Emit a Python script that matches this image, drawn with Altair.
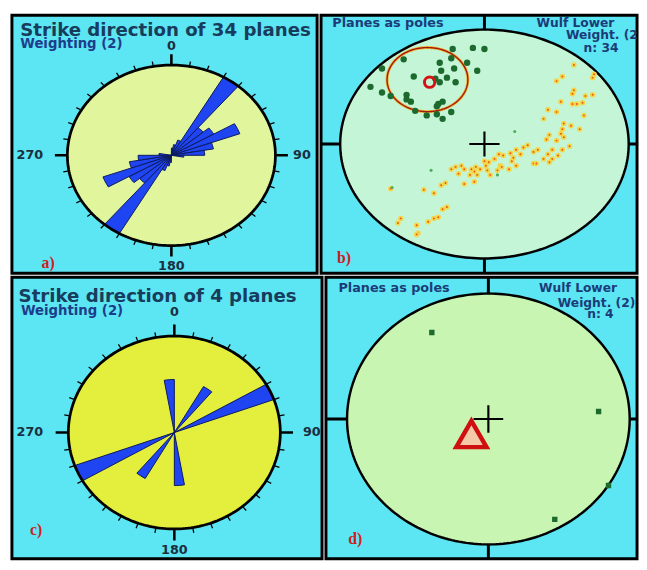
import altair as alt
import numpy as np
import pandas as pd

# ================= DATA =================
# (a) rose diagram of 34 planes: 10-degree strike bins (start angle) and relative petal length
ROSE_A_BIN = [0, 10, 20, 30, 40, 50, 60, 70, 80, 90]
ROSE_A_LEN = [0.08, 0.12, 0.18, 1.00, 0.40, 0.47, 0.70, 0.41, 0.32, 0.12]
# (c) rose diagram of 4 planes
ROSE_C_BIN = [170, 30, 60]
ROSE_C_LEN = [0.55, 0.55, 1.00]
BIN_WIDTH = 10
ROSE_LABELS = ["0", "90", "180", "270"]

# (b) poles of 34 planes, Wulff lower hemisphere (unit-circle coordinates)
POLE_B_X = [-0.22, -0.08, 0.00, -0.56, -0.23, -0.12, -0.31, -0.71, -0.05, -0.30,
            -0.21, -0.49, -0.26, -0.34, -0.20, -0.79, -0.71, -0.65, -0.54, -0.51,
            -0.48, -0.32, -0.29, -0.33, -0.40, -0.33, -0.29, -0.23, -0.54, -0.31]
POLE_B_Y = [0.83, 0.84, 0.83, 0.74, 0.75, 0.71, 0.71, 0.66, 0.64, 0.64,
            0.66, 0.59, 0.58, 0.57, 0.54, 0.50, 0.45, 0.42, 0.43, 0.37,
            0.29, 0.35, 0.37, 0.33, 0.25, 0.26, 0.22, 0.28, 0.39, 0.54]
# (b) intersection points
INT_B_X = [0.62, 0.54, 0.76, 0.75, 0.50, 0.62, 0.61, 0.70, 0.75, 0.53, 0.61, 0.64, 0.68,
           0.44, 0.50, 0.69, 0.41, 0.55, 0.60, 0.54, 0.66, 0.53, 0.55, 0.45, 0.43, 0.50,
           0.59, 0.54, 0.47, 0.44, 0.51, 0.41, 0.47, 0.45, 0.37, 0.34, 0.30, 0.27, 0.22,
           0.25, 0.18, 0.20, 0.13, 0.10, 0.07, 0.11, 0.03, 0.00, 0.01, -0.03, -0.06, -0.07,
           -0.09, -0.14, -0.16, -0.20, -0.23, -0.18, -0.10, -0.05, 0.02, 0.04, 0.09, 0.12,
           0.17, 0.19, 0.34, 0.36, 0.22, -0.07, -0.14, -0.30, -0.27, -0.42, -0.35, -0.65,
           -0.29, -0.26, -0.35, -0.39, -0.32, -0.47, -0.60, -0.58, -0.46, -0.47]
INT_B_Y = [0.69, 0.59, 0.61, 0.58, 0.55, 0.47, 0.44, 0.42, 0.43, 0.37, 0.35, 0.35, 0.36,
           0.30, 0.28, 0.25, 0.22, 0.18, 0.16, 0.13, 0.13, 0.09, 0.06, 0.08, 0.04, 0.03,
           -0.02, -0.05, -0.05, -0.09, -0.10, -0.13, -0.13, -0.16, -0.05, -0.07, -0.01, -0.03, -0.05,
           -0.09, -0.08, -0.12, -0.10, -0.09, -0.13, -0.19, -0.16, -0.15, -0.19, -0.22, -0.20, -0.24,
           -0.22, -0.22, -0.19, -0.20, -0.22, -0.26, -0.27, -0.27, -0.23, -0.27, -0.23, -0.20,
           -0.22, -0.15, -0.17, -0.17, -0.19, -0.33, -0.35, -0.36, -0.34, -0.40, -0.43, -0.39,
           -0.57, -0.55, -0.65, -0.68, -0.64, -0.71, -0.69, -0.65, -0.78, -0.79]
FAINT_B_X = [0.21, -0.37, -0.64, 0.09]
FAINT_B_Y = [0.11, -0.23, -0.38, -0.27]
MEAN_B_X, MEAN_B_Y = [-0.38], [0.54]
CONE_B_X, CONE_B_Y, CONE_B_R = [-0.395], [0.563], [0.28]

# (d) poles of 4 planes
POLE_D_X = [-0.40, 0.78, 0.85, 0.47]
POLE_D_Y = [0.69, 0.06, -0.53, -0.80]
MEAN_D_X, MEAN_D_Y = [-0.12], [-0.12]

# ================= STYLE =================
CYAN = "#5ce5f2"
DISK_A = "#e0f59c"
DISK_C = "#e3ef3c"
DISK_B = "#c3f5d6"
DISK_D = "#c9f5b2"
BLUE = "#1f44f2"
NAVY = "#0b1a5e"
TITLE_C = "#173c5c"
SUB_C = "#1c3d8c"
NET_TXT = "#1b3c78"
TAG_C = "#cc1f1f"
LBL_C = "#1b2f3f"
SANS = "DejaVu Sans"
SERIF = "Liberation Serif"


def scales(W, H, cx, cy, rx, ry):
    sx = alt.Scale(domain=[-cx / rx, (W - cx) / rx], nice=False, zero=False)
    sy = alt.Scale(domain=[-(H - cy) / ry, cy / ry], nice=False, zero=False)
    return sx, sy


def X(f, s):
    return alt.X(f, type="quantitative", scale=s, axis=None)


def Y(f, s):
    return alt.Y(f, type="quantitative", scale=s, axis=None)


def disk_layer(color, sx, sy):
    t = np.linspace(0, np.pi, 181)
    df = pd.DataFrame({"x": np.cos(t), "y": np.sin(t), "y2": -np.sin(t)})
    return alt.Chart(df).mark_area(color=color, clip=True).encode(
        x=X("x", sx), y=Y("y", sy), y2="y2:Q")


def ring_layer(sx, sy, cx=0.0, cy=0.0, r=1.0, color="black", width=2.5):
    t = np.linspace(0, 2 * np.pi, 241)
    df = pd.DataFrame({"x": cx + r * np.sin(t), "y": cy + r * np.cos(t), "i": np.arange(241)})
    return alt.Chart(df).mark_line(color=color, strokeWidth=width, clip=True).encode(
        x=X("x", sx), y=Y("y", sy), order="i:Q")


def petal_layer(bins, lens, sx, sy):
    rows = []
    for k, (b, ln) in enumerate(zip(bins, lens)):
        for half in (0, 180):
            a0 = b + half
            pts = [(0.0, 0.0)]
            for a in np.linspace(a0, a0 + BIN_WIDTH, 5):
                pts.append((ln * np.sin(np.radians(a)), ln * np.cos(np.radians(a))))
            pts.append((0.0, 0.0))
            for i, (x, y) in enumerate(pts):
                rows.append({"pid": f"{k}_{half}", "i": i, "x": x, "y": y})
    df = pd.DataFrame(rows)
    return alt.Chart(df).mark_line(fill=BLUE, stroke=NAVY, strokeWidth=1, clip=True).encode(
        x=X("x", sx), y=Y("y", sy), detail="pid:N", order="i:Q")


def tick_layers(sx, sy):
    ang = np.arange(0, 360, 10)
    major = ang % 90 == 0
    r2 = np.where(major, 1.12, 1.055)
    df = pd.DataFrame({"x": np.sin(np.radians(ang)), "y": np.cos(np.radians(ang)),
                       "x2": r2 * np.sin(np.radians(ang)), "y2": r2 * np.cos(np.radians(ang)),
                       "major": major})
    minor_l = alt.Chart(df[~df.major]).mark_rule(color="black", strokeWidth=1.3, clip=True).encode(
        x=X("x", sx), y=Y("y", sy), x2="x2:Q", y2="y2:Q")
    major_l = alt.Chart(df[df.major]).mark_rule(color="black", strokeWidth=2.6, clip=True).encode(
        x=X("x", sx), y=Y("y", sy), x2="x2:Q", y2="y2:Q")
    return [minor_l, major_l]


def txt(s, x, y, size, color, weight="bold", font=SANS, align="left",
        baseline="alphabetic", clip=True):
    return alt.Chart(pd.DataFrame({"t": [s]})).mark_text(
        font=font, fontSize=size, fontWeight=weight, color=color, align=align,
        baseline=baseline, clip=clip).encode(text="t:N", x=alt.value(x), y=alt.value(y))


def rose_panel(W, H, cx, cy, rx, ry, disk, bins, lens, title, tag, pos):
    sx, sy = scales(W, H, cx, cy, rx, ry)
    layers = [disk_layer(disk, sx, sy)] + tick_layers(sx, sy) + [
        petal_layer(bins, lens, sx, sy),
        ring_layer(sx, sy, width=2.8),
        txt(title, pos["title"][0], pos["title"][1], 18.5, TITLE_C),
        txt("Weighting (2)", pos["w"][0], pos["w"][1], 13.5, SUB_C),
        txt(ROSE_LABELS[0], cx, pos["n"], 13, LBL_C, align="center"),
        txt(ROSE_LABELS[1], pos["e"], cy, 13, LBL_C, baseline="middle"),
        txt(ROSE_LABELS[2], cx, pos["s"], 13, LBL_C, align="center"),
        txt(ROSE_LABELS[3], pos["west"], cy, 13, LBL_C, align="right",
            baseline="middle", clip=False),
        txt(tag, pos["tag"][0], pos["tag"][1], 16, TAG_C, font=SERIF),
    ]
    return alt.layer(*layers).properties(width=W, height=H)


def net_base(sx, sy, disk):
    cross = pd.DataFrame({"x": [-0.105, 0.0], "x2": [0.105, 0.0], "y": [0.0, -0.11], "y2": [0.0, 0.11]})
    edge = pd.DataFrame({"x": [0.0, 0.0, -1.0, 1.0], "x2": [0.0, 0.0, -1.6, 1.6],
                         "y": [1.0, -1.0, 0.0, 0.0], "y2": [1.6, -1.6, 0.0, 0.0]})
    return [
        disk_layer(disk, sx, sy),
        alt.Chart(edge).mark_rule(color="black", strokeWidth=3, clip=True).encode(
            x=X("x", sx), y=Y("y", sy), x2="x2:Q", y2="y2:Q"),
        ring_layer(sx, sy, width=2.5),
        alt.Chart(cross).mark_rule(color="black", strokeWidth=2.2, clip=True).encode(
            x=X("x", sx), y=Y("y", sy), x2="x2:Q", y2="y2:Q"),
    ]


def net_texts(n, pos):
    return [
        txt("Planes as poles", pos["p"][0], pos["p"][1], 13, NET_TXT),
        txt("Wulf Lower", pos["wl"][0], pos["wl"][1], 12.5, NET_TXT),
        txt("Weight. (2)", pos["wt"][0], pos["wt"][1], 12.5, NET_TXT),
        txt(f"n: {n}", pos["n"][0], pos["n"][1], 12.5, NET_TXT),
        txt(pos["tag"][2], pos["tag"][0], pos["tag"][1], 16, TAG_C, font=SERIF),
    ]


# ---------- panel a ----------
pa = rose_panel(311, 263, 162.5, 142.8, 106, 92, DISK_A, ROSE_A_BIN, ROSE_A_LEN,
                "Strike direction of 34 planes", "a)",
                {"title": (8.5, 20.8), "w": (8.5, 33.3), "n": 35.2, "s": 259.2, "e": 286.5,
                 "west": 31.8, "tag": (30.2, 257.2)})

# ---------- panel c ----------
pc = rose_panel(316, 287, 165.5, 158.3, 108, 98.3, DISK_C, ROSE_C_BIN, ROSE_C_LEN,
                "Strike direction of 4 planes", "c)",
                {"title": (6.8, 25.3), "w": (9.2, 38.3), "n": 40, "s": 282, "e": 296.5,
                 "west": 31.8, "tag": (18.5, 262.5)})

# ---------- panel b ----------
sxb, syb = scales(322, 263, 166.5, 131.3, 147, 116.6)
poles_b = pd.DataFrame({"x": POLE_B_X, "y": POLE_B_Y})
int_b = pd.DataFrame({"x": INT_B_X, "y": INT_B_Y})
faint_b = pd.DataFrame({"x": FAINT_B_X, "y": FAINT_B_Y})
mean_b = pd.DataFrame({"x": MEAN_B_X, "y": MEAN_B_Y})
pb_layers = net_base(sxb, syb, DISK_B) + [
    alt.Chart(int_b).mark_point(filled=True, shape="circle", size=14, fill="#e2581a",
                                stroke="#f4d64a", strokeWidth=1.8, opacity=1, clip=True).encode(
        x=X("x", sxb), y=Y("y", syb)),
    alt.Chart(faint_b).mark_point(filled=True, shape="circle", size=10, color="#4caf5a",
                                  opacity=1, clip=True).encode(x=X("x", sxb), y=Y("y", syb)),
    ring_layer(sxb, syb, CONE_B_X[0], CONE_B_Y[0], CONE_B_R[0], color="#f0b030", width=3),
    ring_layer(sxb, syb, CONE_B_X[0], CONE_B_Y[0], CONE_B_R[0], color="#a01a10", width=1.4),
    alt.Chart(poles_b).mark_point(filled=True, shape="circle", size=42, color="#1d6a2e",
                                  opacity=1, clip=True).encode(x=X("x", sxb), y=Y("y", syb)),
    alt.Chart(mean_b).mark_point(filled=False, shape="circle", size=110, color="#d41414",
                                 strokeWidth=3, opacity=1, clip=True).encode(
        x=X("x", sxb), y=Y("y", syb)),
] + net_texts(34, {"p": (11.5, 11.8), "wl": (219.5, 11.8), "wt": (249.5, 24.5),
                   "n": (267.5, 37.2), "tag": (16.2, 252.8, "b)")})
pb = alt.layer(*pb_layers).properties(width=322, height=263)

# ---------- panel d ----------
sxd, syd = scales(317, 287, 165.5, 144.5, 144, 127.8)
poles_d = pd.DataFrame({"x": POLE_D_X, "y": POLE_D_Y})
mean_d = pd.DataFrame({"x": MEAN_D_X, "y": MEAN_D_Y})
pd_layers = net_base(sxd, syd, DISK_D) + [
    alt.Chart(poles_d).mark_point(filled=True, shape="square", size=30, color="#1d6a2e",
                                  opacity=1, clip=True).encode(x=X("x", sxd), y=Y("y", syd)),
    alt.Chart(mean_d).mark_point(filled=True, shape="triangle-up", size=950, fill="#f4c9a8",
                                 stroke="#d01010", strokeWidth=4.5, opacity=1, clip=True).encode(
        x=X("x", sxd), y=Y("y", syd)),
] + net_texts(4, {"p": (12.8, 14.7), "wl": (217.2, 14.7), "wt": (236.2, 30.5),
                  "n": (266.2, 41.3), "tag": (22.8, 272.3, "d)")})
pdd = alt.layer(*pd_layers).properties(width=317, height=287)

chart = alt.vconcat(
    alt.hconcat(pa, pb, spacing=0),
    alt.hconcat(pc, pdd, spacing=0),
    spacing=0,
).properties(
    padding={"left": 2, "top": 0, "right": 0, "bottom": 0},
    background="white",
).configure_view(
    fill=CYAN, stroke="black", strokeWidth=3
).configure_concat(spacing=0)

chart.save("out.html", embed_options={"renderer": "svg", "actions": False})
